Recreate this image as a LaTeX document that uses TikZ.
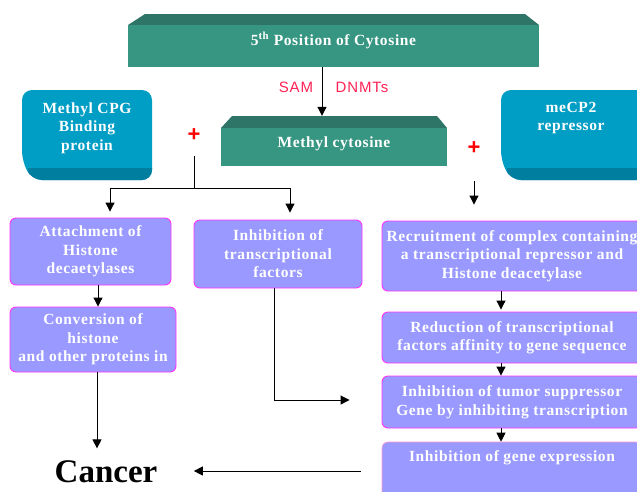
\documentclass[tikz,border=0pt]{standalone}
\usepackage{fontspec}
\setmainfont{Liberation Serif}
\setsansfont{Liberation Sans}
\newfontfamily\boxfont[LetterSpace=4]{Liberation Serif}
\newfontfamily\lblfont[LetterSpace=6]{Liberation Sans}
\usetikzlibrary{arrows.meta}
\definecolor{tealF}{HTML}{379682}
\definecolor{tealT}{HTML}{2E7567}
\definecolor{blueF}{HTML}{009DC4}
\definecolor{blueD}{HTML}{007EA0}
\definecolor{lav}{HTML}{9999FF}
\definecolor{mag}{HTML}{FF33FF}
\definecolor{lpink}{HTML}{FF99CC}
\definecolor{pinkred}{HTML}{FF2255}
\begin{document}
\begin{tikzpicture}[x=1pt,y=-1pt,
  arr/.style={line width=1pt,-{Triangle[width=9pt,length=9pt]}},
  conn/.style={line width=1pt},
  btext/.style={font=\boxfont\bfseries\fontsize{15.5}{18.5}\selectfont},
  wtext/.style={btext,text=white,align=center,inner sep=0pt},
  lbox/.style={draw=mag,line width=0.9pt,fill=lav,rounded corners=6pt,text=white,btext,align=center,inner sep=0pt},
  lbl/.style={text=pinkred,font=\lblfont\fontsize{15}{17}\selectfont},
  plus/.style={text=red,font=\sffamily\bfseries\fontsize{22}{24}\selectfont,inner sep=0pt}
]
\clip (0,0) rectangle (637,491);
\fill[white] (0,0) rectangle (637,491);

% teal 3D boxes
\fill[tealT] (128,25) -- (145,14) -- (525,14) -- (539,25) -- cycle;
\fill[tealF] (128,25) rectangle (539,67);
\fill[tealT] (221,128) -- (232,116) -- (437,116) -- (447,128) -- cycle;
\fill[tealF] (221,128) rectangle (447,166);

% blue 3D boxes
\begin{scope}
\clip[rounded corners=10pt] (22,161) -- (22,90) -- (152,90) -- (152,180) -- (32,180) -- cycle;
\fill[blueF] (0,80) rectangle (160,190);
\fill[blueD] (28,168) rectangle (160,190);
\end{scope}
\begin{scope}
\clip[rounded corners=10pt] (501,161) -- (501,90) -- (650,90) -- (650,180) -- (511,180) -- cycle;
\fill[blueF] (480,80) rectangle (660,190);
\fill[blueD] (507,168) rectangle (660,190);
\end{scope}

% text of shapes
\node[wtext,minimum width=411pt,minimum height=53pt] (pos) at (333.5,40.5) {5\textsuperscript{th} Position of Cytosine};
\node[wtext,minimum width=226pt,minimum height=56pt] (mc) at (334,144) {Methyl cytosine};
\node[wtext] (cpg) at (87,128) {Methyl CPG\\Binding\\protein};
\node[wtext] (mecp) at (571,118) {meCP2\\repressor};

\node[lbl] (sam) at (296,87) {SAM};
\node[lbl] (dnmt) at (362,87) {DNMTs};
\node[plus] (p1) at (194,135) {+};
\node[plus] (p2) at (474,148) {+};

% lavender boxes
\node[lbox,minimum width=161pt,minimum height=67pt] (att) at (90.5,251.5) {Attachment of\\Histone\\decaetylases};
\node[lbox,minimum width=166pt,minimum height=65pt] (conv) at (93,339.5) {Conversion of\\histone\\and other proteins in};
\node[lbox,minimum width=168pt,minimum height=68pt] (inh) at (278,254) {Inhibition of\\transcriptional\\factors};
\node[lbox,minimum width=260pt,minimum height=70pt] (rec) at (512,256) {Recruitment of complex containing\\a transcriptional repressor and\\Histone deacetylase};
\node[lbox,minimum width=260pt,minimum height=51pt] (red) at (512,337.5) {Reduction of transcriptional\\factors affinity to gene sequence};
\node[lbox,minimum width=260pt,minimum height=52pt] (tum) at (512,402) {Inhibition of tumor suppressor\\Gene by inhibiting transcription};
\node[lbox,draw=lpink,line width=0.6pt,minimum width=260pt,minimum height=58pt,
  label={[anchor=north,yshift=-8.5pt,text=white,btext,inner sep=0pt]north:Inhibition of gene expression}] (gen) at (512,471) {};

\node[font=\bfseries\fontsize{33}{36}\selectfont] (cancer) at (106,472) {Cancer};

% connectors
\draw[arr] ([xshift=-11.5pt]pos.south) -- ([xshift=-12pt]mc.north);
\coordinate (t1) at ([yshift=-21pt]p1.center);
\coordinate (j1) at ([yshift=-53pt]p1.center);
\draw[conn] (t1) -- (j1);
\draw[arr,shorten >=6pt] (j1) -| ([xshift=19.5pt]att.north);
\draw[arr,shorten >=7pt] (j1) -| ([xshift=12pt]inh.north);
\draw[arr,shorten <=33pt,shorten >=16pt] (p2.center) -- (p2.center |- rec.north);
\draw[arr] ([xshift=7.5pt]att.south) -- ([xshift=7.5pt]att.south |- conv.north);
\draw[arr,shorten >=9pt] ([xshift=4pt]conv.south) -- ([xshift=4pt]conv.south |- cancer.north);
\draw[arr,shorten >=32pt] ([xshift=-4pt]inh.south) |- ([yshift=2pt]tum.west);
\draw[arr,shorten >=2pt] ([xshift=-11pt]rec.south) -- ([xshift=-11pt]rec.south |- red.north);
\draw[arr] ([xshift=-11pt]red.south) -- ([xshift=-11pt]red.south |- tum.north);
\draw[arr] ([xshift=-11pt]tum.south) -- ([xshift=-11pt]tum.south |- gen.north);
\draw[arr,shorten <=21pt,shorten >=33pt] (gen.west) -- (gen.west -| cancer.east);
\end{tikzpicture}
\end{document}
